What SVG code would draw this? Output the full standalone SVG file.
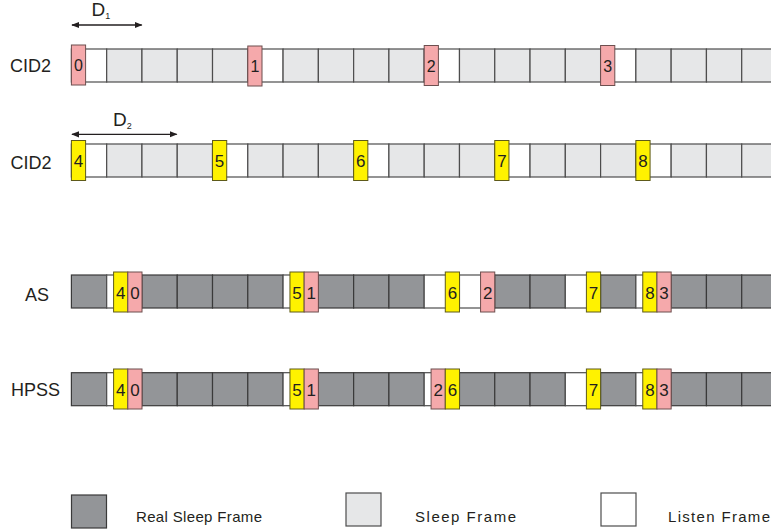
<svg xmlns="http://www.w3.org/2000/svg" width="771" height="531" viewBox="0 0 771 531">
<defs>
<style>
.lbl{font-family:"Liberation Sans",Arial,sans-serif;font-size:18px;fill:#231f20}
.num{font-family:"Liberation Sans",Arial,sans-serif;font-size:17px;fill:#231f20;text-anchor:middle}
.leg{font-family:"Liberation Sans",Arial,sans-serif;font-size:15px;fill:#231f20}
.sl{fill:#e6e7e8;stroke:#4d4d4d;stroke-width:1.2}
.ls{fill:#ffffff;stroke:#4d4d4d;stroke-width:1.2}
.rs{fill:#939598;stroke:#3a3a3a;stroke-width:1.2}
.pk{fill:#f5a9ab;stroke:#6d4f4f;stroke-width:1}
.yl{fill:#fff200;stroke:#5e5a1a;stroke-width:1}
.dim{stroke:#231f20;stroke-width:1.3;fill:none}
</style>
<marker id="ah" viewBox="0 0 10 10" refX="9" refY="5" markerWidth="8" markerHeight="8" orient="auto-start-reverse" markerUnits="userSpaceOnUse">
<path d="M0,1 L10,5 L0,9 Z" fill="#231f20"/>
</marker>
</defs>
<rect width="771" height="531" fill="#ffffff"/>

<!-- Row 1: CID2 (pink) -->
<g id="row-cid2-a">
<text class="lbl" x="10" y="72">CID2</text>
<rect class="ls" x="71.4" y="49" width="35.28" height="33"/>
<rect class="sl" x="106.68" y="49" width="35.28" height="33"/>
<rect class="sl" x="141.96" y="49" width="35.28" height="33"/>
<rect class="sl" x="177.24" y="49" width="35.28" height="33"/>
<rect class="sl" x="212.52" y="49" width="35.28" height="33"/>
<rect class="ls" x="247.8" y="49" width="35.28" height="33"/>
<rect class="sl" x="283.08" y="49" width="35.28" height="33"/>
<rect class="sl" x="318.36" y="49" width="35.28" height="33"/>
<rect class="sl" x="353.64" y="49" width="35.28" height="33"/>
<rect class="sl" x="388.92" y="49" width="35.28" height="33"/>
<rect class="ls" x="424.2" y="49" width="35.28" height="33"/>
<rect class="sl" x="459.48" y="49" width="35.28" height="33"/>
<rect class="sl" x="494.76" y="49" width="35.28" height="33"/>
<rect class="sl" x="530.04" y="49" width="35.28" height="33"/>
<rect class="sl" x="565.32" y="49" width="35.28" height="33"/>
<rect class="ls" x="600.6" y="49" width="35.28" height="33"/>
<rect class="sl" x="635.88" y="49" width="35.28" height="33"/>
<rect class="sl" x="671.16" y="49" width="35.28" height="33"/>
<rect class="sl" x="706.44" y="49" width="35.28" height="33"/>
<rect class="sl" x="741.72" y="49" width="35.28" height="33"/>
</g>
<g id="m0"><rect class="pk" x="71.4" y="45" width="14.2" height="40"/><text class="num" x="78.5" y="70.5" style="font-size:16px">0</text></g>
<g id="m1"><rect class="pk" x="247.8" y="46" width="14.2" height="40"/><text class="num" x="254.9" y="72.3" style="font-size:16px">1</text></g>
<g id="m2"><rect class="pk" x="424.2" y="45.5" width="14.2" height="40"/><text class="num" x="431.3" y="72.3" style="font-size:16px">2</text></g>
<g id="m3"><rect class="pk" x="600.6" y="45.5" width="14.2" height="40"/><text class="num" x="607.7" y="72.3" style="font-size:16px">3</text></g>

<!-- Row 2: CID2 (yellow) -->
<g id="row-cid2-b">
<text class="lbl" x="10.5" y="169">CID2</text>
<rect class="ls" x="71.4" y="144" width="35.28" height="33"/>
<rect class="sl" x="106.68" y="144" width="35.28" height="33"/>
<rect class="sl" x="141.96" y="144" width="35.28" height="33"/>
<rect class="sl" x="177.24" y="144" width="35.28" height="33"/>
<rect class="ls" x="212.52" y="144" width="35.28" height="33"/>
<rect class="sl" x="247.8" y="144" width="35.28" height="33"/>
<rect class="sl" x="283.08" y="144" width="35.28" height="33"/>
<rect class="sl" x="318.36" y="144" width="35.28" height="33"/>
<rect class="ls" x="353.64" y="144" width="35.28" height="33"/>
<rect class="sl" x="388.92" y="144" width="35.28" height="33"/>
<rect class="sl" x="424.2" y="144" width="35.28" height="33"/>
<rect class="sl" x="459.48" y="144" width="35.28" height="33"/>
<rect class="ls" x="494.76" y="144" width="35.28" height="33"/>
<rect class="sl" x="530.04" y="144" width="35.28" height="33"/>
<rect class="sl" x="565.32" y="144" width="35.28" height="33"/>
<rect class="sl" x="600.6" y="144" width="35.28" height="33"/>
<rect class="ls" x="635.88" y="144" width="35.28" height="33"/>
<rect class="sl" x="671.16" y="144" width="35.28" height="33"/>
<rect class="sl" x="706.44" y="144" width="35.28" height="33"/>
<rect class="sl" x="741.72" y="144" width="35.28" height="33"/>
</g>
<g id="m4"><rect class="yl" x="71.4" y="140.5" width="14.2" height="40"/><text class="num" x="78.5" y="167">4</text></g>
<g id="m5"><rect class="yl" x="212.52" y="140.5" width="14.2" height="40"/><text class="num" x="219.6" y="167">5</text></g>
<g id="m6"><rect class="yl" x="353.64" y="140.5" width="14.2" height="40"/><text class="num" x="360.7" y="167">6</text></g>
<g id="m7"><rect class="yl" x="494.76" y="140.5" width="14.2" height="40"/><text class="num" x="501.9" y="167">7</text></g>
<g id="m8"><rect class="yl" x="635.88" y="140.5" width="14.2" height="40"/><text class="num" x="643" y="167">8</text></g>

<!-- AS row -->
<g id="row-as">
<text class="lbl" x="25" y="301">AS</text>
<rect class="rs" x="71.4" y="275" width="35.28" height="33"/>
<rect class="ls" x="106.68" y="275" width="35.28" height="33"/>
<rect class="rs" x="141.96" y="275" width="35.28" height="33"/>
<rect class="rs" x="177.24" y="275" width="35.28" height="33"/>
<rect class="rs" x="212.52" y="275" width="35.28" height="33"/>
<rect class="rs" x="247.8" y="275" width="35.28" height="33"/>
<rect class="ls" x="283.08" y="275" width="35.28" height="33"/>
<rect class="rs" x="318.36" y="275" width="35.28" height="33"/>
<rect class="rs" x="353.64" y="275" width="35.28" height="33"/>
<rect class="rs" x="388.92" y="275" width="35.28" height="33"/>
<rect class="ls" x="424.2" y="275" width="35.28" height="33"/>
<rect class="ls" x="459.48" y="275" width="35.28" height="33"/>
<rect class="rs" x="494.76" y="275" width="35.28" height="33"/>
<rect class="rs" x="530.04" y="275" width="35.28" height="33"/>
<rect class="ls" x="565.32" y="275" width="35.28" height="33"/>
<rect class="rs" x="600.6" y="275" width="35.28" height="33"/>
<rect class="ls" x="635.88" y="275" width="35.28" height="33"/>
<rect class="rs" x="671.16" y="275" width="35.28" height="33"/>
<rect class="rs" x="706.44" y="275" width="35.28" height="33"/>
<rect class="rs" x="741.72" y="275" width="35.28" height="33"/>
</g>
<g id="as-4"><rect class="yl" x="113.6" y="272" width="14.2" height="40"/><text class="num" x="120.7" y="299.3">4</text></g>
<g id="as-0"><rect class="pk" x="127.8" y="272" width="14.2" height="40"/><text class="num" x="134.9" y="299.3">0</text></g>
<g id="as-5"><rect class="yl" x="289.96" y="272" width="14.2" height="40"/><text class="num" x="297.1" y="299.3">5</text></g>
<g id="as-1"><rect class="pk" x="304.16" y="272" width="14.2" height="40"/><text class="num" x="311.3" y="299.3">1</text></g>
<g id="as-6"><rect class="yl" x="445.28" y="272" width="14.2" height="40"/><text class="num" x="452.4" y="299.3">6</text></g>
<g id="as-2"><rect class="pk" x="480.56" y="272" width="14.2" height="40"/><text class="num" x="487.7" y="299.3">2</text></g>
<g id="as-7"><rect class="yl" x="586.4" y="272" width="14.2" height="40"/><text class="num" x="593.5" y="299.3">7</text></g>
<g id="as-8"><rect class="yl" x="642.76" y="272" width="14.2" height="40"/><text class="num" x="649.9" y="299.3">8</text></g>
<g id="as-3"><rect class="pk" x="656.96" y="272" width="14.2" height="40"/><text class="num" x="664.1" y="299.3">3</text></g>

<!-- HPSS row -->
<g id="row-hpss">
<text class="lbl" x="11" y="396">HPSS</text>
<rect class="rs" x="71.4" y="372.7" width="35.28" height="33"/>
<rect class="ls" x="106.68" y="372.7" width="35.28" height="33"/>
<rect class="rs" x="141.96" y="372.7" width="35.28" height="33"/>
<rect class="rs" x="177.24" y="372.7" width="35.28" height="33"/>
<rect class="rs" x="212.52" y="372.7" width="35.28" height="33"/>
<rect class="rs" x="247.8" y="372.7" width="35.28" height="33"/>
<rect class="ls" x="283.08" y="372.7" width="35.28" height="33"/>
<rect class="rs" x="318.36" y="372.7" width="35.28" height="33"/>
<rect class="rs" x="353.64" y="372.7" width="35.28" height="33"/>
<rect class="rs" x="388.92" y="372.7" width="35.28" height="33"/>
<rect class="ls" x="424.2" y="372.7" width="35.28" height="33"/>
<rect class="rs" x="459.48" y="372.7" width="35.28" height="33"/>
<rect class="rs" x="494.76" y="372.7" width="35.28" height="33"/>
<rect class="rs" x="530.04" y="372.7" width="35.28" height="33"/>
<rect class="ls" x="565.32" y="372.7" width="35.28" height="33"/>
<rect class="rs" x="600.6" y="372.7" width="35.28" height="33"/>
<rect class="ls" x="635.88" y="372.7" width="35.28" height="33"/>
<rect class="rs" x="671.16" y="372.7" width="35.28" height="33"/>
<rect class="rs" x="706.44" y="372.7" width="35.28" height="33"/>
<rect class="rs" x="741.72" y="372.7" width="35.28" height="33"/>
</g>
<g id="hp-4"><rect class="yl" x="113.6" y="369" width="14.2" height="40"/><text class="num" x="120.7" y="396">4</text></g>
<g id="hp-0"><rect class="pk" x="127.8" y="369" width="14.2" height="40"/><text class="num" x="134.9" y="396">0</text></g>
<g id="hp-5"><rect class="yl" x="289.96" y="369" width="14.2" height="40"/><text class="num" x="297.1" y="396">5</text></g>
<g id="hp-1"><rect class="pk" x="304.16" y="369" width="14.2" height="40"/><text class="num" x="311.3" y="396">1</text></g>
<g id="hp-2"><rect class="pk" x="431.08" y="369" width="14.2" height="40"/><text class="num" x="438.2" y="396">2</text></g>
<g id="hp-6"><rect class="yl" x="445.28" y="369" width="14.2" height="40"/><text class="num" x="452.4" y="396">6</text></g>
<g id="hp-7"><rect class="yl" x="586.4" y="369" width="14.2" height="40"/><text class="num" x="593.5" y="396">7</text></g>
<g id="hp-8"><rect class="yl" x="642.76" y="369" width="14.2" height="40"/><text class="num" x="649.9" y="396">8</text></g>
<g id="hp-3"><rect class="pk" x="656.96" y="369" width="14.2" height="40"/><text class="num" x="664.1" y="396">3</text></g>

<!-- dimension arrows -->
<g id="connectors">
<line class="dim" x1="72" y1="25" x2="141.7" y2="25" marker-start="url(#ah)" marker-end="url(#ah)"/>
<line class="dim" x1="72" y1="134.3" x2="176.7" y2="134.3" marker-start="url(#ah)" marker-end="url(#ah)"/>
</g>
<g id="label-d1"><text class="lbl" x="91.5" y="16" style="font-size:19px">D<tspan style="font-size:9px" dy="2.5">1</tspan></text></g>
<g id="label-d2"><text class="lbl" x="113" y="125.7" style="font-size:19px">D<tspan style="font-size:9px" dy="2.8">2</tspan></text></g>

<!-- legend -->
<g id="legend-real-sleep"><rect class="rs" x="71.5" y="495" width="35" height="33"/><text class="leg" x="136" y="522" textLength="126" lengthAdjust="spacing">Real Sleep Frame</text></g>
<g id="legend-sleep"><rect class="sl" x="346" y="493" width="35" height="33"/><text class="leg" x="415" y="522" textLength="101" lengthAdjust="spacing">Sleep Frame</text></g>
<g id="legend-listen"><rect class="ls" x="601" y="493" width="35" height="33"/><text class="leg" x="668" y="522" textLength="102" lengthAdjust="spacing">Listen Frame</text></g>
</svg>
